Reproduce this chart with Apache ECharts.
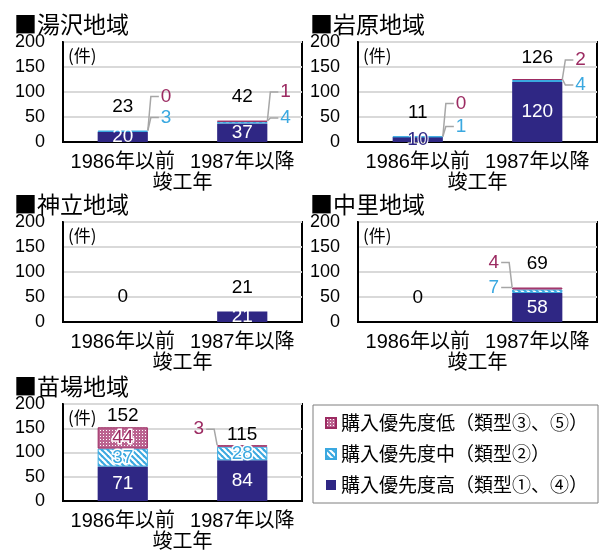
<!DOCTYPE html>
<html><head><meta charset="utf-8">
<script src="https://cdn.jsdelivr.net/npm/echarts@6/dist/echarts.min.js"></script>
<style>html,body{margin:0;padding:0;background:#fff}#c{width:600px;height:553px}</style>
</head><body><div id="c"></div>
<script>
// ---- data ----
const categories = ['1986年以前', '1987年以降'];
const regions = ['湯沢地域', '岩原地域', '神立地域', '中里地域', '苗場地域'];
const highValues = [[20, 37], [10, 120], [0, 21], [0, 58], [71, 84]];
const midValues  = [[3, 4],  [1, 4],    [0, 0],  [0, 7],  [37, 28]];
const lowValues  = [[0, 1],  [0, 2],    [0, 0],  [0, 4],  [44, 3]];
const totals     = [[23, 42], [11, 126], [0, 21], [0, 69], [152, 115]];
const yTicks = [0, 50, 100, 150, 200];
const seriesNames = ['購入優先度高（類型①、④）', '購入優先度中（類型②）', '購入優先度低（類型③、⑤）'];
const axisName = '竣工年';
const unitLabel = '(件)';

// ---- layout / style ----
const FONT = "'Liberation Sans','Noto Sans CJK JP',sans-serif";
const CJK = "'Noto Sans CJK JP',sans-serif";
const HIGH = '#2f2784', MID = '#3aa8e0', LOW = '#9c2b62';
const gridPos = [[63, 42], [358, 42], [63, 222], [358, 222], [63, 404]];
const GW = 239, GH = 100, BAR_RATIO = 0.42;
const calloutLayout = [
  { side: 'right', dy: [[-34, -13], [-29, -3]] },
  { side: 'right', dy: [[-33, -10], [-19, 6]] },
  { side: 'right', dy: [[0, 0], [0, 0]] },
  { side: 'left',  dy: [[0, 0], [-25, 0]] },
  { side: 'left',  dy: [[0, 0], [-16, 0]] }
];
const totalDy = [[-24, -24], [-24, -21], [-25, -24], [-24, -24], [-12, -10]];

function hatch() {
  const c = document.createElement('canvas'); c.width = 6; c.height = 6;
  const x = c.getContext('2d');
  x.fillStyle = '#fff'; x.fillRect(0, 0, 6, 6);
  x.strokeStyle = MID; x.lineWidth = 2;
  [[-6, 0], [0, 0], [6, 0], [0, -6], [0, 6]].forEach(([ox, oy]) => {
    x.beginPath(); x.moveTo(ox - 1, oy - 1); x.lineTo(ox + 7, oy + 7); x.stroke();
  });
  return { image: c, repeat: 'repeat' };
}
function dots() {
  const c = document.createElement('canvas'); c.width = 3; c.height = 3;
  const x = c.getContext('2d');
  x.fillStyle = '#bb6390'; x.fillRect(0, 0, 3, 3);
  x.fillStyle = '#fff'; x.fillRect(1, 1, 1, 1);
  return { image: c, repeat: 'repeat' };
}
const midPattern = hatch(), lowPattern = dots();

const grids = [], xAxes = [], yAxes = [], series = [], titles = [], graphics = [];

regions.forEach((name, r) => {
  const [gl, gt] = gridPos[r];
  grids.push({ left: gl, top: gt, width: GW, height: GH, show: true, borderColor: '#000', borderWidth: 2, backgroundColor: '#fff' });
  xAxes.push({
    type: 'category', gridIndex: r, data: categories,
    axisLine: { lineStyle: { color: '#000', width: 2 } }, axisTick: { show: false },
    axisLabel: { color: '#000', fontSize: 20, fontFamily: FONT, margin: 10, interval: 0 },
    name: axisName, nameLocation: 'middle', nameGap: 31,
    nameTextStyle: { color: '#000', fontSize: 20, fontFamily: FONT }
  });
  yAxes.push({
    type: 'value', gridIndex: r, min: yTicks[0], max: yTicks[yTicks.length - 1], interval: yTicks[1] - yTicks[0],
    axisLine: { show: true, lineStyle: { color: '#000', width: 2 } }, axisTick: { show: false },
    axisLabel: { color: '#000', fontSize: 18, fontFamily: FONT, margin: 18 },
    splitLine: { lineStyle: { color: '#d9d9d9', width: 2 } }
  });
  titles.push({ text: '■' + name, left: r % 2 === 0 ? 9 : 305, top: gt - 34,
    textStyle: { fontSize: 23, fontWeight: 'normal', color: '#000', fontFamily: CJK } });
  graphics.push({ type: 'text', left: gl + 5, top: gt + 5, z: 10,
    style: { text: unitLabel, fill: '#000', font: '17px ' + CJK } });

  const mk = (vals, kind) => vals.map((v, i) => {
    const show = kind === 'high' ? v > 0 : v >= 10;
    const small = v <= 10;
    const lab = { show };
    if (kind === 'high') { lab.color = small ? HIGH : '#fff'; lab.textBorderColor = small ? '#fff' : HIGH; lab.textBorderWidth = small ? 2 : 0; }
    return { value: v === 0 ? '-' : v, label: lab };
  });
  const base = { type: 'bar', stack: 'g' + r, xAxisIndex: r, yAxisIndex: r, barWidth: (BAR_RATIO * 100) + '%', z: 3 };
  series.push(Object.assign({}, base, {
    name: seriesNames[0], data: mk(highValues[r], 'high'),
    itemStyle: { color: HIGH },
    label: { position: 'inside', fontSize: 19, fontFamily: FONT, color: '#fff', textBorderColor: HIGH, textBorderWidth: 2 }
  }));
  series.push(Object.assign({}, base, {
    name: seriesNames[1], data: mk(midValues[r], 'mid'),
    itemStyle: { color: midPattern, borderColor: MID, borderWidth: 1 },
    label: { position: 'inside', fontSize: 19, fontFamily: FONT, color: MID, textBorderColor: '#fff', textBorderWidth: 3 }
  }));
  series.push(Object.assign({}, base, {
    name: seriesNames[2], data: mk(lowValues[r], 'low'),
    itemStyle: { color: lowPattern, borderColor: LOW, borderWidth: 1 },
    label: { position: 'inside', fontSize: 19, fontFamily: FONT, color: LOW, textBorderColor: '#fff', textBorderWidth: 3 }
  }));
  // totals + callouts
  series.push({
    type: 'custom', xAxisIndex: r, yAxisIndex: r, z: 5, silent: true,
    data: totals[r].map((t, i) => [i, t]),
    encode: { x: 0, y: 1 },
    renderItem: (params, api) => {
      const i = params.dataIndex;
      const total = api.value(1);
      const top = api.coord([api.value(0), total]);
      const barW = api.size([1, 0])[0] * BAR_RATIO;
      const font = '19px ' + FONT;
      const children = [{
        type: 'text', x: top[0], y: top[1] + totalDy[r][i],
        style: { text: String(total), fill: '#000', font, align: 'center', verticalAlign: 'middle' }
      }];
      const mid = midValues[r][i], low = lowValues[r][i];
      const cfg = calloutLayout[r];
      const s = cfg.side === 'right' ? 1 : -1;
      const edgeX = top[0] + s * barW / 2;
      [[low, LOW, 0, low < 10], [mid, MID, 1, mid < 10]].forEach(([v, col, k, small]) => {
        if (!(small && mid + low > 0)) return;
        const ly = top[1] + cfg.dy[i][k];
        children.push({
          type: 'polyline',
          shape: { points: [[edgeX, top[1]], [edgeX + s * 3, ly], [edgeX + s * 11, ly]] },
          style: { stroke: '#a6a6a6', lineWidth: 1.5, fill: null }
        });
        children.push({
          type: 'text', x: edgeX + s * 13, y: ly,
          style: { text: String(v), fill: col, font, align: s > 0 ? 'left' : 'right', verticalAlign: 'middle' }
        });
      });
      return { type: 'group', children };
    }
  });
});

const chart = echarts.init(document.getElementById('c'), null, { renderer: 'canvas' });
chart.setOption({
  animation: false,
  backgroundColor: '#fff',
  textStyle: { fontFamily: FONT },
  title: titles,
  grid: grids, xAxis: xAxes, yAxis: yAxes, series,
  graphic: graphics,
  legend: {
    data: [seriesNames[2], seriesNames[1], seriesNames[0]],
    orient: 'vertical', left: 313, top: 405,
    padding: [8, 10, 8, 12], itemGap: 11, itemWidth: 10, itemHeight: 10,
    borderColor: '#7f7f7f', borderWidth: 1, backgroundColor: '#fff',
    icon: 'rect', selectedMode: false,
    textStyle: { fontSize: 19, color: '#000', fontFamily: CJK, lineHeight: 20 }
  }
});
</script></body></html>
